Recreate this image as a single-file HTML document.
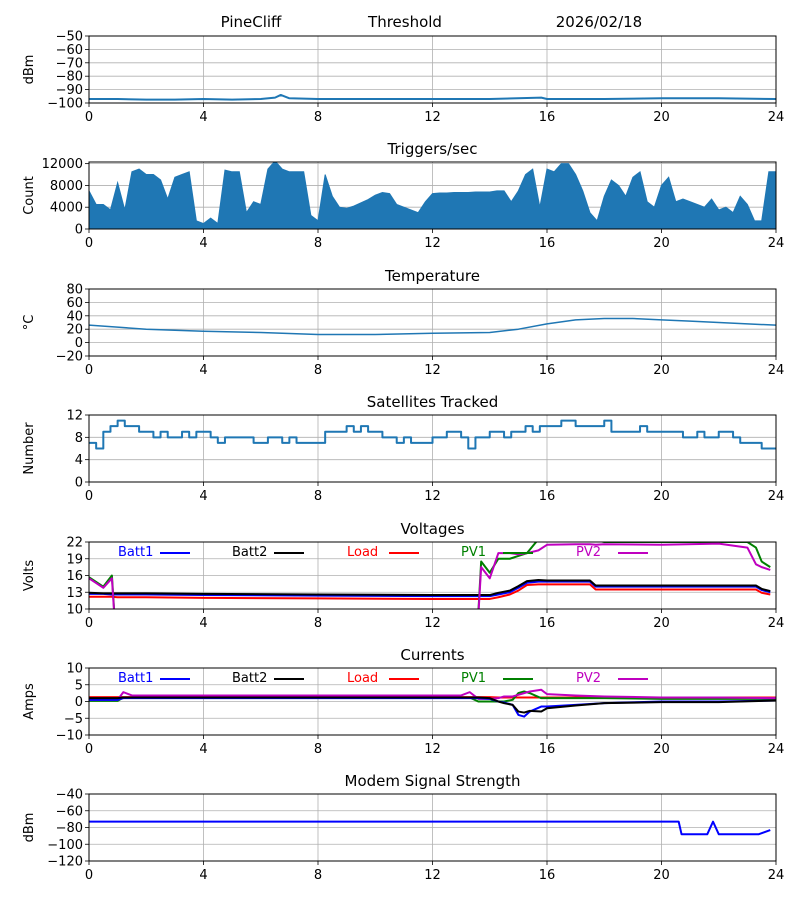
<!DOCTYPE html>
<html><head><meta charset="utf-8"><style>
html,body{margin:0;padding:0;background:#fff;}
svg{display:block;font-family:"DejaVu Sans","Liberation Sans",sans-serif;}
</style></head><body>
<svg id="chart" width="800" height="900" viewBox="0 0 800 900" xmlns="http://www.w3.org/2000/svg">
<text x="251" y="27" font-size="15" text-anchor="middle">PineCliff</text>
<text x="405" y="27" font-size="15" text-anchor="middle">Threshold</text>
<text x="599" y="27" font-size="15" text-anchor="middle">2026/02/18</text>
</svg>
<script>
// ---- data ----
const xTicks = [0,4,8,12,16,20,24];
const threshHours = [0,1,2,3,4,5,6,6.5,6.7,7,8,10,12,14,15.8,16,17,18,20,22,24];
const threshVals = [-97,-97,-97.5,-97.5,-97,-97.5,-97,-96,-94,-96.5,-97,-97,-97,-97,-96,-97,-97,-97,-96.5,-96.5,-97];
const trigPeaks = [7000,4500,4500,3500,8500,3500,10500,11000,10000,10000,9000,5500,9500,10000,10500,1500,1000,2000,1000,10800,10500,10500,3000,5000,4500,11000,12500,11000,10500,10500,10500,2500,1500,10000,6000,4000,3800,4200,4800,5400,6200,6700,6500,4500,4000,3500,3000,5000,6500,6600,6600,6700,6700,6700,6800,6800,6800,7000,7000,5000,7000,10000,11000,4000,11000,10500,12000,12000,10000,7000,3000,1500,6000,9000,8000,6000,9500,10500,5000,4000,8000,9500,5000,5500,5000,4500,4000,5500,3500,4000,3000,6000,4500,1500,1500,10500,10500,9500];
const tempHours = [0,2,4,6,8,10,12,14,15,16,17,18,19,20,21,22,23,24];
const tempVals = [26,20,17,15,12,12,14,15,20,28,34,36,36,34,32,30,28,26];
const satVals = [7,6,9,10,11,10,10,9,9,8,9,8,8,9,8,9,9,8,7,8,8,8,8,7,7,8,8,7,8,7,7,7,7,9,9,9,10,9,10,9,9,8,8,7,8,7,7,7,8,8,9,9,8,6,8,8,9,9,8,9,9,10,9,10,10,10,11,11,10,10,10,10,11,9,9,9,9,10,9,9,9,9,9,8,8,9,8,8,9,9,8,7,7,7,6,6,6];
const vHours = [0,0.5,0.8,1.0,2,4,8,12,13.3,13.5,13.7,14,14.3,14.7,15,15.3,15.7,16,17,17.5,17.7,18,20,22,23,23.3,23.5,23.8];
const vBatt1 = [12.7,12.7,12.6,12.6,12.6,12.5,12.4,12.3,12.3,12.3,12.3,12.3,12.6,13,13.8,14.7,14.9,14.9,14.9,14.9,14,14,14,14,14,14,13.4,13];
const vBatt2 = [12.9,12.8,12.8,12.8,12.8,12.7,12.6,12.5,12.5,12.5,12.5,12.5,12.9,13.3,14.1,15,15.2,15.1,15.1,15.1,14.2,14.2,14.2,14.2,14.2,14.2,13.6,13.2];
const vLoad = [12.2,12.2,12.2,12.1,12.1,12.0,11.9,11.8,11.8,11.8,11.8,11.8,12.1,12.6,13.3,14.3,14.4,14.4,14.4,14.4,13.5,13.5,13.5,13.5,13.5,13.5,12.9,12.6];
const vPV1 = [15.7,14,16,0,0,0,0,0,0,0,18.5,16.5,19,19,19.5,20,22.5,22.8,22.5,22.5,22.3,22,22,22,22,21,18.5,17.5];
const vPV2 = [15.5,13.8,15.5,0,0,0,0,0,0,0,17.5,15.5,20,20,19.8,20,20.5,21.5,21.6,21.6,21.5,21.6,21.5,21.7,21,18,17.5,17];
const cHours = [0,1,1.2,1.5,4,8,12,13,13.3,13.6,14,14.3,14.5,14.8,15,15.2,15.4,15.8,16,17,18,20,22,24];
const cBatt1 = [0.5,0.5,1,1,1,1,1,1,1,1,0.8,0,-0.3,-1,-4,-4.5,-3,-1.5,-1.5,-1,-0.5,0,0,0.3];
const cBatt2 = [1,1,1.2,1.2,1.2,1.2,1.2,1.2,1.2,1.2,1,0,-0.5,-1,-3,-3.3,-2.8,-3,-2,-1.2,-0.5,-0.2,-0.2,0.3];
const cLoad = [1.3,1.3,1.3,1.3,1.3,1.3,1.3,1.3,1.3,1.3,1.3,1.2,1.2,1.2,1.2,1.2,1.2,1.2,1.2,1.2,1.2,1.2,1.2,1.2];
const cPV1 = [0.2,0.2,1.2,1.2,1.2,1.2,1.2,1.2,1.2,0,0,0,0,0.5,2.5,3,2.5,1,1,1,1,0.8,0.8,0.8];
const cPV2 = [0.5,0.5,2.8,1.8,1.8,1.8,1.8,1.8,2.8,0.8,0.8,1,1.5,1.5,2,2.5,3,3.5,2.2,1.8,1.5,1.2,1.2,1];
const modemHours = [0,20.6,20.7,21.6,21.8,22.0,23.4,23.8];
const modemVals = [-73,-73,-88,-88,-73,-88,-88,-83];

// ---- layout ----
const svg = document.getElementById('chart');
const NS = 'http://www.w3.org/2000/svg';
const X0 = 89, X1 = 776, H = 67;
function el(tag, attrs, parent){const e=document.createElementNS(NS,tag);for(const k in attrs)e.setAttribute(k,attrs[k]);(parent||svg).appendChild(e);return e;}
function makePanel(key, top, yMin, yMax, yTicks, title, ylabel){
  const g = el('g',{});
  
  
  const xs = h => X0 + (h/24)*(X1-X0);
  const ys = v => top + H - (v-yMin)/(yMax-yMin)*H;
  for(const t of xTicks){
    const x=xs(t);
    el('line',{x1:x,x2:x,y1:top,y2:top+H,stroke:'#b0b0b0','stroke-width':0.8},g);
    el('line',{x1:x,x2:x,y1:top+H,y2:top+H+4,stroke:'#000','stroke-width':0.8},g);
    const tl = el('text',{x:x,y:top+H+18,'font-size':13,'text-anchor':'middle'},g);
    
    
    tl.textContent=t;
  }
  for(const t of yTicks){
    const y=ys(t);
    el('line',{x1:X0,x2:X1,y1:y,y2:y,stroke:'#b0b0b0','stroke-width':0.8},g);
    el('line',{x1:X0-4,x2:X0,y1:y,y2:y,stroke:'#000','stroke-width':0.8},g);
    const tl = el('text',{x:X0-6,y:y+4.5,'font-size':13,'text-anchor':'end'},g);
    
    
    tl.textContent=String(t).replace('-','\u2212');
  }
  const tt = el('text',{x:(X0+X1)/2,y:top-8,'font-size':15,'text-anchor':'middle'},g);
  
  
  if(title) tt.textContent=title;
  const yl = el('text',{x:0,y:0,'font-size':13,'text-anchor':'middle',transform:`translate(33,${top+H/2}) rotate(-90)`},g);
  
  
  yl.textContent=ylabel;
  const clipId='clip-'+key;
  const cp=el('clipPath',{id:clipId},g); el('rect',{x:X0,y:top,width:X1-X0,height:H},cp);
  const data=el('g',{'clip-path':`url(#${clipId})`},g);
  const frame=()=>el('rect',{x:X0,y:top,width:X1-X0,height:H,fill:'none',stroke:'#000','stroke-width':1},g);
  return {g,data,xs,ys,frame};
}
function line(p, hours, vals, color, name, w, step){
  let d='';
  hours.forEach((h,i)=>{
    const x=p.xs(h), y=p.ys(vals[i]);
    if(i===0) d+=`M${x},${y}`;
    else if(step) d+=`H${x}V${y}`;
    else d+=`L${x},${y}`;
  });
  const path=el('path',{d,fill:'none',stroke:color,'stroke-width':w||1.5,'stroke-linejoin':'round'},p.data);
  
  
  return path;
}
function legend(p, top, key){
  const items=[['Batt1','#0000ff',118],['Batt2','#000000',232],['Load','#ff0000',347],['PV1','#008000',461],['PV2','#bf00bf',576]];
  for(const [n,c,x] of items){
    const t=el('text',{x:x,y:top+14,'font-size':13,fill:c},p.g);
    
    
    t.textContent=n;
    el('line',{x1:x+42,x2:x+72,y1:top+11,y2:top+11,stroke:c,'stroke-width':2},p.g);
  }
}

// Threshold
const p1=makePanel('threshold',36,-100,-50,[-50,-60,-70,-80,-90,-100],'','dBm');
line(p1,threshHours,threshVals,'#1f77b4','threshold-line',2);
p1.frame();

// Triggers
const p2=makePanel('triggers',162,0,12300,[0,4000,8000,12000],'Triggers/sec','Count');
(function(){
  let d=`M${p2.xs(0)},${p2.ys(0)}`;
  trigPeaks.forEach((v,i)=>{d+=`L${p2.xs(i*0.25)},${p2.ys(v)}`;});
  d+=`L${p2.xs(24)},${p2.ys(0)}Z`;
  const a=el('path',{d,fill:'#1f77b4',stroke:'#1f77b4','stroke-width':1},p2.data);
  
  
})();
p2.frame();

// Temperature
const p3=makePanel('temperature',289,-20,80,[80,60,40,20,0,-20],'Temperature','\u00B0C');
line(p3,tempHours,tempVals,'#1f77b4','temperature-line',1.5);
p3.frame();

// Satellites
const p4=makePanel('satellites',415,0,12,[0,4,8,12],'Satellites Tracked','Number');
line(p4,satVals.map((v,i)=>i*0.25),satVals,'#1f77b4','satellites-line',2,true);
p4.frame();

// Voltages
const p5=makePanel('voltages',542,10,22,[22,19,16,13,10],'Voltages','Volts');
line(p5,vHours,vLoad,'#ff0000','voltage-load-line',2);
line(p5,vHours,vBatt1,'#0000ff','voltage-batt1-line',2);
line(p5,vHours,vBatt2,'#000000','voltage-batt2-line',2);
line(p5,vHours,vPV1,'#008000','voltage-pv1-line',2);
line(p5,vHours,vPV2,'#bf00bf','voltage-pv2-line',2);
legend(p5,542,'voltages');
p5.frame();

// Currents
const p6=makePanel('currents',668,-10,10,[10,5,0,-5,-10],'Currents','Amps');
line(p6,cHours,cLoad,'#ff0000','current-load-line',2);
line(p6,cHours,cPV1,'#008000','current-pv1-line',2);
line(p6,cHours,cPV2,'#bf00bf','current-pv2-line',2);
line(p6,cHours,cBatt1,'#0000ff','current-batt1-line',2);
line(p6,cHours,cBatt2,'#000000','current-batt2-line',2);
legend(p6,668,'currents');
p6.frame();

// Modem
const p7=makePanel('modem',794,-120,-40,[-40,-60,-80,-100,-120],'Modem Signal Strength','dBm');
line(p7,modemHours,modemVals,'#0000ff','modem-signal-line',2);
p7.frame();
</script>
</body></html>
